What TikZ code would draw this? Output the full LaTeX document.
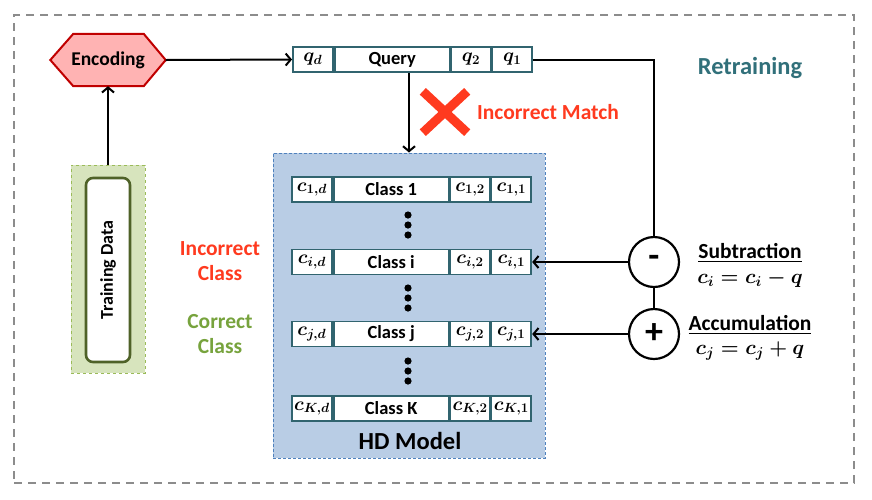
\RequirePackage{fix-cm}
\documentclass[tikz,border=0pt]{standalone}
\usepackage{fontspec}
\setmainfont{Carlito}
\usepackage{amsmath}
\usetikzlibrary{arrows.meta,calc}
\pgfdeclarelayer{bg}
\pgfsetlayers{bg,main}
\definecolor{barteal}{HTML}{31646F}
\definecolor{hdfill}{HTML}{B9CDE5}
\definecolor{hdline}{HTML}{4F81BD}
\definecolor{tdfill}{HTML}{D7E4BD}
\definecolor{tdline}{HTML}{9BBB59}
\definecolor{tddark}{HTML}{4F6228}
\definecolor{encfill}{HTML}{FFB3B3}
\definecolor{encline}{HTML}{C00000}
\definecolor{wrongred}{HTML}{FF3A1F}
\definecolor{rightgreen}{HTML}{77A33D}
\definecolor{retteal}{HTML}{31707A}
\definecolor{outergray}{HTML}{8C8C8C}
\tikzset{
  arr/.style={line width=2pt,-{Straight Barb[length=5pt,width=12pt]}},
  plain/.style={line width=2pt},
  cell/.style={draw=barteal,line width=1.8pt,fill=white,minimum height=25pt,inner sep=0pt,anchor=west,font=\fontsize{19}{22}\selectfont\boldmath},
  wordcell/.style={cell,font=\fontsize{18.5}{20}\selectfont\bfseries},
  opcircle/.style={circle,draw=black,line width=2.2pt,fill=white,minimum size=50pt,inner sep=0pt,font=\fontsize{36}{36}\selectfont\bfseries},
  lbl/.style={font=\fontsize{21.5}{25}\selectfont\bfseries,align=center,inner sep=0pt},
  eqlbl/.style={font=\fontsize{20.5}{24}\selectfont\boldmath,inner sep=0pt},
  dotfill/.style={fill=black}
}
\newcommand\hdrowbar[6]{%
  \node[cell,minimum width=40pt] (#1a) at (291,#2) {$#3$};
  \node[wordcell,minimum width=115pt] (#1b) at (#1a.east) {#4};
  \node[cell,minimum width=39pt] (#1c) at (#1b.east) {$#5$};
  \node[cell,minimum width=40pt] (#1e) at (#1c.east) {$#6$};
}
\begin{document}
\begin{tikzpicture}[x=1pt,y=-1pt]
\useasboundingbox (0,0) rectangle (872,499);
% outer border
\node[draw=outergray,dash pattern=on 8pt off 6pt,line width=2pt,minimum width=840pt,minimum height=468pt,inner sep=0pt] (outer) at (434,249) {};

% HD model box
\node[draw=hdline,fill=hdfill,densely dashed,line width=1pt,minimum width=272pt,minimum height=305pt,inner sep=0pt] (hd) at (409,305.5) {};
\node[font=\fontsize{24.5}{28}\selectfont\bfseries,inner sep=0pt] (hdlabel) at (410,441) {HD Model};

% training data
\node[draw=tdline,fill=tdfill,dashed,line width=1pt,minimum width=74pt,minimum height=208pt,inner sep=0pt] (td) at (108,269) {};
\node[draw=tddark,fill=white,line width=2.6pt,rounded corners=7pt,minimum width=44pt,minimum height=184pt,inner sep=0pt] (tdin) at (108,270) {};
\node[rotate=90,font=\fontsize{18}{20}\selectfont\bfseries,inner sep=0pt] (tdtext) at (108,270) {Training Data};

% encoding hexagon
\node[minimum width=115pt,minimum height=52pt,inner sep=0pt,font=\fontsize{19.5}{22}\selectfont\bfseries] (enc) at (108,60) {Encoding};
\begin{pgfonlayer}{bg}
\filldraw[fill=encfill,draw=encline,line width=2pt,line join=miter]
  (enc.west) -- ([xshift=23pt]enc.north west) -- ([xshift=-22pt]enc.north east)
  -- (enc.east) -- ([xshift=-22pt]enc.south east) -- ([xshift=23pt]enc.south west) -- cycle;
\end{pgfonlayer}

% query bar
\node[cell,minimum width=40pt] (qd) at (292,59.5) {$q_d$};
\node[wordcell,minimum width=115pt] (query) at (qd.east) {Query};
\node[cell,minimum width=39pt] (q2) at (query.east) {$q_2$};
\node[cell,minimum width=40pt] (q1) at (q2.east) {$q_1$};

% class rows
\hdrowbar{r1}{189.5}{c_{1,d}}{Class 1}{c_{1,2}}{c_{1,1}}
\hdrowbar{ri}{262}{c_{i,d}}{Class i}{c_{i,2}}{c_{i,1}}
\hdrowbar{rj}{334}{c_{j,d}}{Class j}{c_{j,2}}{c_{j,1}}
\hdrowbar{rk}{408.5}{c_{K,d}}{Class K}{c_{K,2}}{c_{K,1}}

% dots
\foreach \yy in {215,225,235,288,298,308,361,371,381}
  \fill[dotfill] (408,\yy) circle (3.6pt);

% operation circles
\node[opcircle] (minus) at (654,262) {\raisebox{2pt}{-}};
\node[opcircle] (plus) at (654,334) {+};

% connectors
\draw[arr] (td.north) -- (enc.south);
\draw[arr] (enc.east) -- (qd.west);
\draw[arr] (hd.north |- query.south) -- (hd.north);
\draw[plain] (q1.east) -| (minus.north);
\draw[plain] (minus.south) -- (plus.north);
\draw[arr] (minus.west) -- (rie.east);
\draw[arr] (plus.west) -- (rje.east);

% red cross
\node[minimum width=44pt,minimum height=41pt,inner sep=0pt] (cross) at (445,112) {};
\draw[wrongred,line width=9pt] (cross.north west) -- (cross.south east);
\draw[wrongred,line width=9pt] (cross.north east) -- (cross.south west);

% labels
\node[lbl,text=wrongred] (imatch) at (548,112) {Incorrect Match};
\node[font=\fontsize{24.5}{28}\selectfont\bfseries,text=retteal,inner sep=0pt] (retrain) at (750,68) {Retraining};
\node[lbl,text=wrongred] (iclass) at (220,261) {Incorrect\\[0pt]Class};
\node[lbl,text=rightgreen] (cclass) at (220,334) {Correct\\[0pt]Class};
\node[lbl] (sub) at (750,253) {\underline{Subtraction}};
\node[eqlbl] (subeq) at (750,279) {$c_i = c_i - q$};
\node[lbl] (acc) at (750,325) {\underline{Accumulation}};
\node[eqlbl] (acceq) at (750,351) {$c_j = c_j + q$};
\end{tikzpicture}
\end{document}
